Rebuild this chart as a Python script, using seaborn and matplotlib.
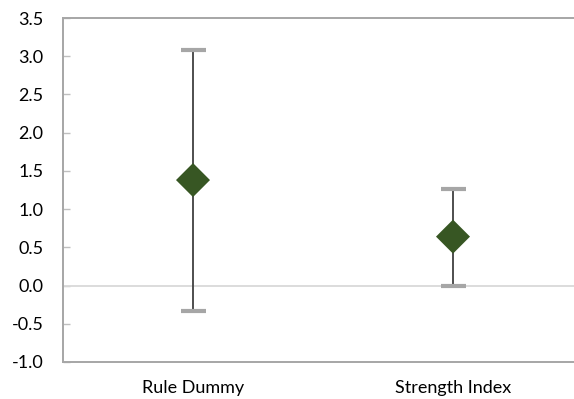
import matplotlib
matplotlib.use("Agg")
import matplotlib.pyplot as plt
import seaborn as sns
import numpy as np
import pandas as pd

# values
categories = ["Rule Dummy", "Strength Index"]
estimates = [1.38, 0.64]
upper = [3.08, 1.26]
lower = [-0.33, 0.00]
y_ticks = [-1.0, -0.5, 0.0, 0.5, 1.0, 1.5, 2.0, 2.5, 3.0, 3.5]

df = pd.DataFrame({"variable": categories, "estimate": estimates,
                   "upper": upper, "lower": lower})

sns.set_theme(style="white")
plt.rcParams["font.family"] = ["Lato", "DejaVu Sans"]

fig = plt.figure(figsize=(5.74, 3.99), dpi=100)
ax = fig.add_axes([63 / 574, 37 / 399, 520 / 574, 344 / 399])

# zero line
ax.axhline(0, color="#D9D9D9", lw=1.3, zorder=1)

# error bars, caps in lighter grey
x = np.arange(len(df))
yerr = np.vstack([df["estimate"] - df["lower"], df["upper"] - df["estimate"]])
eb = ax.errorbar(x, df["estimate"], yerr=yerr, fmt="none", ecolor="#404040",
                 elinewidth=1.3, capsize=9, capthick=3, zorder=2)
for cap in eb[1]:
    cap.set_markeredgecolor("#A6A6A6")
    cap.set_markerfacecolor("#A6A6A6")

# diamond markers
sns.scatterplot(data=df, x="variable", y="estimate", marker="D", s=300,
                color="#375623", edgecolor="none", ax=ax, zorder=3)

ax.set_xlim(-0.5, 1.5)
ax.set_ylim(-1.0, 3.5)
ax.set_yticks(y_ticks)
ax.set_yticklabels([f"{v:.1f}" for v in y_ticks])
ax.set_xlabel("")
ax.set_ylabel("")

for side in ["left", "top", "bottom", "right"]:
    ax.spines[side].set_color("#A6A6A6")
    ax.spines[side].set_linewidth(1.4)
ax.spines["right"].set_visible(False)

ax.tick_params(axis="y", direction="in", length=5, width=1, color="#BFBFBF",
               left=True, pad=14, labelsize=13, labelcolor="black")
ax.tick_params(axis="x", length=0, pad=13, labelsize=13, labelcolor="black")

fig.savefig("out.png", dpi=100)
